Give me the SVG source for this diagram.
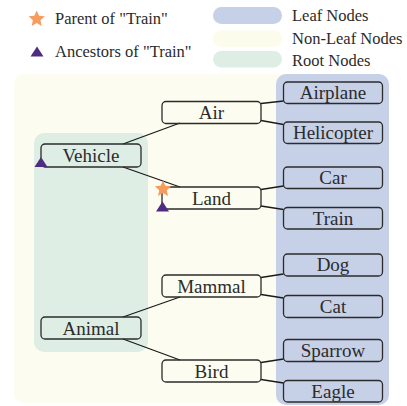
<svg xmlns="http://www.w3.org/2000/svg" width="407" height="406" viewBox="0 0 407 406">
<style>
.nd{fill:none;stroke:#2b2b2b;stroke-width:1.3}
.t{font-size:19px;fill:#2b2b2b;text-anchor:middle}
.lg{font-size:16.5px;fill:#2b2b2b}
.e{stroke:#1a1a1a;stroke-width:1.3;fill:none}
.star{fill:#f89c5e}
.tri{fill:#4e2d80}
</style>
<defs>
<polygon id="star" class="star" points="0,-8.5 2.35,-3.24 8.08,-2.63 3.8,1.24 5,6.88 0,4 -5,6.88 -3.8,1.24 -8.08,-2.63 -2.35,-3.24"/>
<polygon id="tri" class="tri" points="0,-10 6.5,0 -6.5,0"/>
</defs>
<rect width="407" height="406" fill="#ffffff"/>
<g id="legend" font-family="Liberation Serif">
<use href="#star" x="36.7" y="19"/>
<text class="lg" font-family="Liberation Serif" x="55" y="24">Parent of "Train"</text>
<use href="#tri" x="37" y="56.5"/>
<text class="lg" font-family="Liberation Serif" x="55" y="57">Ancestors of "Train"</text>
<rect x="213" y="7" width="69" height="17" rx="8.5" fill="#c6d0e7"/>
<rect x="213" y="30.5" width="69" height="16.5" rx="8.2" fill="#fbfcec"/>
<rect x="213" y="51" width="69" height="16.5" rx="8.2" fill="#deeee5"/>
<text class="lg" font-family="Liberation Serif" x="292" y="21">Leaf Nodes</text>
<text class="lg" font-family="Liberation Serif" x="292" y="44">Non-Leaf Nodes</text>
<text class="lg" font-family="Liberation Serif" x="292" y="65.5">Root Nodes</text>
</g>
<g id="panels">
<rect x="14" y="74" width="280" height="329" rx="10" fill="#fcfdf0"/>
<rect x="276" y="74" width="113" height="331" rx="10" fill="#c6d0e7"/>
<rect x="34" y="133" width="114" height="219" rx="10" fill="#deeee5"/>
</g>
<g id="connectors">
<line class="e" x1="123" y1="144" x2="180" y2="123"/>
<line class="e" x1="123" y1="167" x2="180" y2="187"/>
<line class="e" x1="123" y1="317" x2="180" y2="297"/>
<line class="e" x1="123" y1="339" x2="180" y2="360"/>
<line class="e" x1="261" y1="103.5" x2="283.5" y2="101"/>
<line class="e" x1="261" y1="120.5" x2="283.5" y2="124.5"/>
<line class="e" x1="261" y1="189.5" x2="283.5" y2="186"/>
<line class="e" x1="261" y1="206" x2="283.5" y2="209.5"/>
<line class="e" x1="261" y1="277.5" x2="283.5" y2="274"/>
<line class="e" x1="261" y1="294.5" x2="283.5" y2="298"/>
<line class="e" x1="261" y1="362.5" x2="283.5" y2="359"/>
<line class="e" x1="261" y1="379.5" x2="283.5" y2="383"/>
</g>
<g id="n-vehicle"><rect class="nd" x="41" y="144" width="100" height="23" rx="4"/><text class="t" font-family="Liberation Serif" x="91" y="162">Vehicle</text><use href="#tri" x="41" y="167"/></g>
<g id="n-animal"><rect class="nd" x="41" y="317" width="100" height="22" rx="4"/><text class="t" font-family="Liberation Serif" x="91" y="334.5">Animal</text></g>
<g id="n-air"><rect class="nd" x="162" y="101.5" width="99" height="22" rx="4"/><text class="t" font-family="Liberation Serif" x="211.5" y="119">Air</text></g>
<g id="n-land"><rect class="nd" x="162" y="187" width="99" height="22" rx="4"/><text class="t" font-family="Liberation Serif" x="211.5" y="204.5">Land</text><use href="#star" x="163" y="189"/><use href="#tri" x="162.5" y="211.5"/></g>
<g id="n-mammal"><rect class="nd" x="162" y="275" width="99" height="22" rx="4"/><text class="t" font-family="Liberation Serif" x="211.5" y="292.5">Mammal</text></g>
<g id="n-bird"><rect class="nd" x="162" y="360" width="99" height="22" rx="4"/><text class="t" font-family="Liberation Serif" x="211.5" y="377.5">Bird</text></g>
<g id="n-airplane"><rect class="nd" x="283.5" y="82" width="99" height="21.5" rx="4"/><text class="t" font-family="Liberation Serif" x="333" y="99">Airplane</text></g>
<g id="n-helicopter"><rect class="nd" x="283.5" y="122" width="99" height="21.5" rx="4"/><text class="t" font-family="Liberation Serif" x="333" y="139">Helicopter</text></g>
<g id="n-car"><rect class="nd" x="283.5" y="167" width="99" height="21.5" rx="4"/><text class="t" font-family="Liberation Serif" x="333" y="184">Car</text></g>
<g id="n-train"><rect class="nd" x="283.5" y="207.5" width="99" height="21.5" rx="4"/><text class="t" font-family="Liberation Serif" x="333" y="224.5">Train</text></g>
<g id="n-dog"><rect class="nd" x="283.5" y="254" width="99" height="22" rx="4"/><text class="t" font-family="Liberation Serif" x="333" y="271">Dog</text></g>
<g id="n-cat"><rect class="nd" x="283.5" y="295.5" width="99" height="22" rx="4"/><text class="t" font-family="Liberation Serif" x="333" y="312.5">Cat</text></g>
<g id="n-sparrow"><rect class="nd" x="283.5" y="339.5" width="99" height="22" rx="4"/><text class="t" font-family="Liberation Serif" x="333" y="356.5">Sparrow</text></g>
<g id="n-eagle"><rect class="nd" x="283.5" y="380.5" width="99" height="21.5" rx="4"/><text class="t" font-family="Liberation Serif" x="333" y="397.5">Eagle</text></g>
</svg>
